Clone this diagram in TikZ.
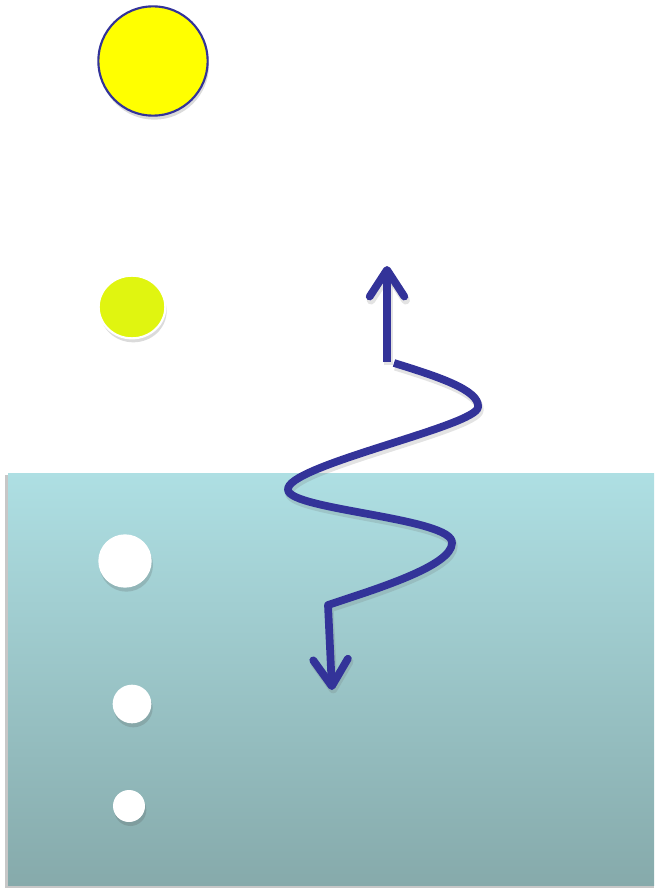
\documentclass[tikz,border=0pt]{standalone}
\usetikzlibrary{arrows.meta,shadows,shapes.geometric}
\definecolor{arrowblue}{HTML}{333399}
\definecolor{sunyellow}{HTML}{FFFF00}
\definecolor{limeyellow}{HTML}{E0F510}
\definecolor{seatop}{HTML}{AEDFE3}
\definecolor{seabottom}{HTML}{86AAAB}
\tikzset{
  softshadow/.style={drop shadow={shadow xshift=1pt, shadow yshift=-3pt, opacity=0.2, fill=black!70}},
  ball/.style={circle, inner sep=0pt, softshadow},
  barb/.style={-{Straight Barb[length=20pt, width=26pt, line cap=round, line join=round]}},
  wavepath/.style={draw=arrowblue, line width=5.8pt, line cap=butt, line join=round, barb},
  lineshadow/.style={draw=black!60, opacity=0.18, line width=6.4pt, line cap=butt, line join=round, barb,
    transform canvas={xshift=1pt, yshift=-2.5pt}}
}
\begin{document}
\begin{tikzpicture}[x=0.75pt, y=-0.75pt]
\useasboundingbox (0,0) rectangle (654,888);
% sea
\fill[black!22] (5,475) rectangle (654,888);
\shade[top color=seatop, bottom color=seabottom] (8,473) rectangle (654,885);
% balls
\node[ball, fill=sunyellow, draw=arrowblue, line width=1.6pt, minimum size=82pt] (sun) at (153,61) {};
\node[ellipse, inner sep=0pt, softshadow, fill=limeyellow, draw=white, line width=1.6pt, minimum width=50pt, minimum height=47pt] (lime) at (132,307) {};
\node[ball, fill=white, minimum size=40pt] (w1) at (125,561) {};
\node[ball, fill=white, minimum size=29pt] (w2) at (132,704) {};
\node[ball, fill=white, minimum size=24pt] (w3) at (129,806) {};
% arrows
\coordinate (upstart) at (387,362);
\coordinate (uptip) at (387,266);
\coordinate (wstart) at (394,363);
\coordinate (r1) at (478,407);
\coordinate (l1) at (288,490);
\coordinate (r2) at (452,543);
\coordinate (wend) at (328,605);
\coordinate (downtip) at (332,690);
\foreach \sty in {lineshadow, wavepath}{
\draw[\sty] (upstart) -- (uptip);
\draw[\sty] (wstart)
  .. controls (436,376) and (480,390) .. (r1)
  .. controls (478,426) and (284,466) .. (l1)
  .. controls (290,510) and (454,518) .. (r2)
  .. controls (452,566) and (376,589) .. (wend)
  -- (downtip);
}
\end{tikzpicture}
\end{document}
